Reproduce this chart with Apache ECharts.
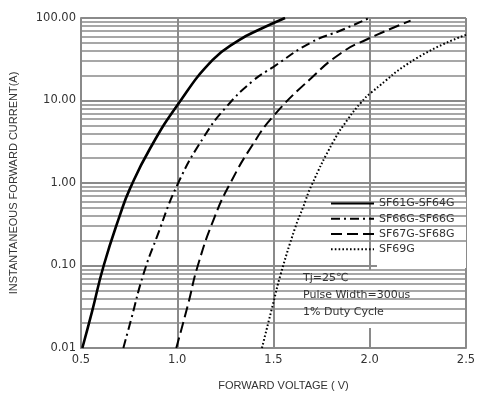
<!DOCTYPE html>
<html><head><meta charset="utf-8">
<script src="https://cdn.jsdelivr.net/npm/echarts@6/dist/echarts.min.js"></script>
<style>html,body{margin:0;padding:0;background:#fff}#c{width:479px;height:396px}</style>
</head><body><div id="c"></div>
<script>
const xTicks = [0.5, 1.0, 1.5, 2.0, 2.5];
const yTicks = [0.01, 0.1, 1, 10, 100];
const seriesNames = ['SF61G-SF64G', 'SF66G-SF66G', 'SF67G-SF68G', 'SF69G'];
const sf61V = [0.507, 0.558, 0.618, 0.704, 0.755, 0.858, 1.004, 1.184, 1.321, 1.424, 1.56];
const sf61I = [0.01, 0.028, 0.1, 0.42, 0.86, 2.6, 9.0, 31, 54, 72, 100];
const sf66V = [0.72, 0.76, 0.824, 0.892, 1.004, 1.141, 1.252, 1.389, 1.5, 1.698, 1.852, 1.998];
const sf66I = [0.01, 0.022, 0.078, 0.215, 0.99, 3.7, 8.2, 17, 25.6, 51, 71, 100];
const sf67V = [0.995, 1.055, 1.107, 1.194, 1.276, 1.389, 1.5, 1.698, 1.852, 1.981, 2.212];
const sf67I = [0.01, 0.033, 0.1, 0.387, 1.0, 2.85, 6.5, 18.9, 37.7, 54.5, 93];
const sf69V = [1.44, 1.50, 1.535, 1.612, 1.655, 1.698, 1.810, 1.887, 1.955, 2.006, 2.246, 2.5];
const sf69I = [0.01, 0.036, 0.075, 0.284, 0.518, 0.94, 3.15, 5.96, 9.45, 12.4, 32.8, 62.5];
const minorGrid = [];
for (const d of [0.01, 0.1, 1, 10]) for (let k = 2; k <= 9; k++) minorGrid.push(+(d * k).toPrecision(3));
const notes = ['Tj=25℃', 'Pulse Width=300us', '1% Duty Cycle'];

const zip = (a, b) => a.map((v, i) => [v, b[i]]);
const FONT = 'DejaVu Sans';
const NFONT = 'Liberation Sans';
const GRID = '#8a8a8a';
const chart = echarts.init(document.getElementById('c'), null, {renderer: 'canvas'});
const styles = [
  {type: 'solid', width: 2.6},
  {type: [9, 4, 2, 4], width: 2},
  {type: [11, 5], width: 2},
  {type: [1.6, 2.2], width: 2}
];
const data = [zip(sf61V, sf61I), zip(sf66V, sf66I), zip(sf67V, sf67I), zip(sf69V, sf69I)];
const series = seriesNames.map((n, i) => ({
  name: n, type: 'line', data: data[i], smooth: 0.5, symbol: 'none', showSymbol: false,
  lineStyle: Object.assign({color: '#000'}, styles[i]), itemStyle: {color: '#000'}, z: 5, silent: true, clip: true
}));
series.push({
  name: 'grid', type: 'line', data: [], z: 0, silent: true,
  markLine: {silent: true, symbol: 'none', label: {show: false},
    lineStyle: {color: GRID, width: 1.5, type: 'solid'},
    data: minorGrid.map(v => ({yAxis: v}))}
});
chart.setOption({
  animation: false,
  grid: {left: 77, right: 13, top: 18, bottom: 45},
  xAxis: {
    type: 'value', min: 0.5, max: 2.5, interval: 0.5,
    name: 'FORWARD VOLTAGE ( V)', nameLocation: 'middle', nameGap: 32,
    nameTextStyle: {fontFamily: NFONT, fontSize: 11, color: '#333', padding: [0, 0, 0, 20]},
    axisLine: {show: true, lineStyle: {color: GRID, width: 2}},
    axisTick: {show: false},
    axisLabel: {fontFamily: FONT, fontSize: 11.5, color: '#333', margin: 6, formatter: v => v.toFixed(1)},
    splitLine: {show: true, lineStyle: {color: GRID, width: 2}}
  },
  yAxis: {
    type: 'log', logBase: 10, min: 0.01, max: 100, interval: 1,
    name: 'INSTANTANEOUS FORWARD CURRENT(A)', nameLocation: 'middle', nameGap: 62,
    nameTextStyle: {fontFamily: NFONT, fontSize: 11, color: '#333', padding: [0, 0, 0, 0]},
    axisLine: {show: true, lineStyle: {color: GRID, width: 2}},
    axisTick: {show: false},
    axisLabel: {fontFamily: FONT, fontSize: 11.5, color: '#333', margin: 5, formatter: v => (+v).toFixed(2)},
    splitLine: {show: true, lineStyle: {color: GRID, width: 2}}
  },
  legend: {
    data: seriesNames, orient: 'vertical', left: 330, top: 198, padding: 0,
    itemWidth: 43, itemHeight: 14, itemGap: 4, selectedMode: false, z: 6,
    itemStyle: {opacity: 0},
    textStyle: {fontFamily: FONT, fontSize: 11, color: '#333', padding: [0, 0, 0, 0]}
  },
  graphic: [
    {type: 'rect', z: 1, silent: true, shape: {x: 377, y: 197, width: 89, height: 71}, style: {fill: '#fff'}},
    {type: 'rect', z: 1, silent: true, shape: {x: 302, y: 270, width: 118, height: 58}, style: {fill: '#fff'}},
    ...notes.map((t, i) => ({type: 'text', z: 6, silent: true, left: 303, top: 273 + i * 17,
      style: {text: t, font: '11px "DejaVu Sans"', fill: '#333'}}))
  ],
  series: series
});
</script></body></html>
